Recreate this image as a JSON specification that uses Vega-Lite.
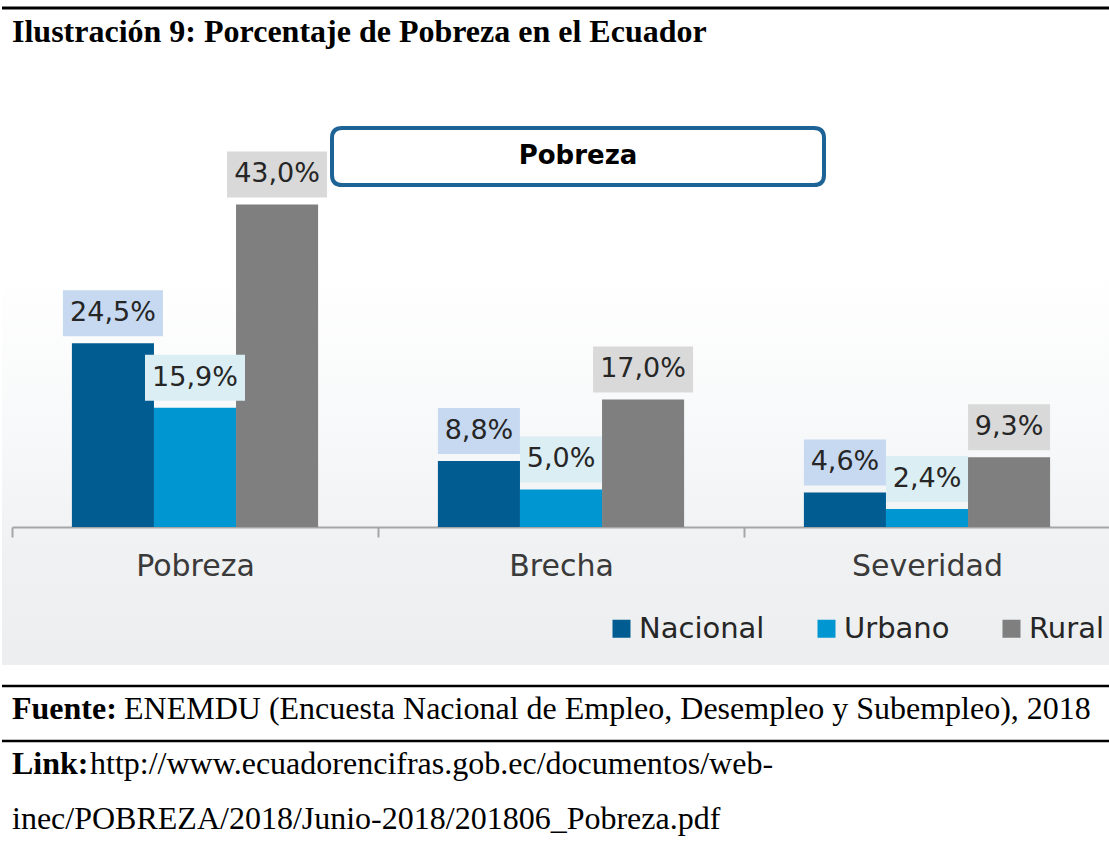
{
  "$schema": "https://vega.github.io/schema/vega-lite/v6.json",
  "padding": 0,
  "background": "white",
  "spacing": 16,
  "datasets": {
    "encabezado": [{"texto": "Ilustración 9: Porcentaje de Pobreza en el Ecuador"}],
    "titulo": [{"titulo": "Pobreza", "Indicador": "Brecha"}],
    "pobreza": [
      {"Indicador": "Pobreza", "Zona": "Nacional", "Valor": 24.5, "Etiqueta": "24,5%"},
      {"Indicador": "Pobreza", "Zona": "Urbano", "Valor": 15.9, "Etiqueta": "15,9%"},
      {"Indicador": "Pobreza", "Zona": "Rural", "Valor": 43.0, "Etiqueta": "43,0%"},
      {"Indicador": "Brecha", "Zona": "Nacional", "Valor": 8.8, "Etiqueta": "8,8%"},
      {"Indicador": "Brecha", "Zona": "Urbano", "Valor": 5.0, "Etiqueta": "5,0%"},
      {"Indicador": "Brecha", "Zona": "Rural", "Valor": 17.0, "Etiqueta": "17,0%"},
      {"Indicador": "Severidad", "Zona": "Nacional", "Valor": 4.6, "Etiqueta": "4,6%"},
      {"Indicador": "Severidad", "Zona": "Urbano", "Valor": 2.4, "Etiqueta": "2,4%"},
      {"Indicador": "Severidad", "Zona": "Rural", "Valor": 9.3, "Etiqueta": "9,3%"}
    ],
    "documento": [
      {"fila": "1", "prefijo": "Fuente:", "resto": "ENEMDU (Encuesta Nacional de Empleo, Desempleo y Subempleo), 2018"},
      {"fila": "2", "prefijo": "Link:", "resto": "http://www.ecuadorencifras.gob.ec/documentos/web-"},
      {"fila": "3", "prefijo": "", "resto": "inec/POBREZA/2018/Junio-2018/201806_Pobreza.pdf"}
    ]
  },
  "vconcat": [
    {
      "width": 1109,
      "height": 84,
      "data": {"name": "encabezado"},
      "layer": [
        {
          "mark": {"type": "rule", "color": "#000000", "strokeWidth": 3},
          "encoding": {"y": {"datum": 0.905, "type": "quantitative", "scale": {"domain": [0, 1]}, "axis": null}}
        },
        {
          "mark": {"type": "text", "align": "left", "baseline": "middle", "font": "Liberation Serif", "fontWeight": "bold", "fontSize": 32, "color": "#000000", "dx": 10},
          "encoding": {
            "x": {"datum": 0, "type": "quantitative", "scale": {"domain": [0, 1]}, "axis": null},
            "y": {"datum": 0.62, "type": "quantitative", "scale": {"domain": [0, 1]}, "axis": null},
            "text": {"field": "texto"}
          }
        }
      ]
    },
    {
      "width": 1109,
      "height": 565,
      "view": {
        "stroke": null,
        "fill": {
          "gradient": "linear", "x1": 0, "y1": 0, "x2": 0, "y2": 1,
          "stops": [
            {"offset": 0, "color": "#ffffff"},
            {"offset": 0.3, "color": "#ffffff"},
            {"offset": 0.6, "color": "#f7f8f9"},
            {"offset": 0.8, "color": "#eff1f2"},
            {"offset": 1, "color": "#eceeef"}
          ]
        }
      },
      "layer": [
        {
          "data": {"name": "pobreza"},
          "encoding": {
            "x": {
              "field": "Indicador", "type": "nominal",
              "scale": {"domain": ["Pobreza", "Brecha", "Severidad"], "range": [10, 1108], "paddingInner": 0, "paddingOuter": 0},
              "axis": {
                "title": null, "offset": -138, "tickBand": "extent",
                "domainColor": "#a6a6a6", "domainWidth": 2,
                "tickColor": "#a6a6a6", "tickWidth": 2, "tickSize": 10,
                "labelFont": "DejaVu Sans", "labelFontSize": 30, "labelColor": "#3a3a3a", "labelPadding": 14, "labelAngle": 0
              }
            },
            "y": {"field": "Valor", "type": "quantitative", "scale": {"domain": [-18.4, 56.93], "nice": false, "zero": false}, "axis": null},
            "xOffset": {"field": "Zona", "scale": {"domain": ["Nacional", "Urbano", "Rural"], "paddingInner": 0, "paddingOuter": 0.73}}
          },
          "layer": [
            {
              "mark": {"type": "bar"},
              "encoding": {
                "color": {
                  "field": "Zona",
                  "scale": {"domain": ["Nacional", "Urbano", "Rural"], "range": ["#015c92", "#0096d1", "#7f7f7f"]},
                  "legend": {
                    "orient": "none", "legendX": 605, "legendY": 614, "direction": "horizontal", "title": null,
                    "symbolType": "square", "symbolSize": 324, "symbolStrokeWidth": 0,
                    "labelFont": "DejaVu Sans", "labelFontSize": 29, "labelColor": "#262626",
                    "columnPadding": 47, "labelOffset": 3, "padding": 0
                  }
                }
              }
            },
            {
              "transform": [{"filter": "datum.Valor >= 10"}],
              "mark": {"type": "point", "filled": true, "opacity": 1, "shape": "M-1,-0.46H1V0.46H-1Z", "size": 10000, "yOffset": -30},
              "encoding": {
                "fill": {"field": "Zona", "scale": {"domain": ["Nacional", "Urbano", "Rural"], "range": ["#c6d9f1", "#dbeef4", "#d9d9d9"]}, "legend": null}
              }
            },
            {
              "transform": [{"filter": "datum.Valor < 10"}],
              "mark": {"type": "point", "filled": true, "opacity": 1, "shape": "M-1,-0.561H1V0.561H-1Z", "size": 6724, "yOffset": -30},
              "encoding": {
                "fill": {"field": "Zona", "scale": {"domain": ["Nacional", "Urbano", "Rural"], "range": ["#c6d9f1", "#dbeef4", "#d9d9d9"]}, "legend": null}
              }
            },
            {
              "mark": {"type": "text", "font": "DejaVu Sans", "fontSize": 27, "color": "#262626", "baseline": "middle", "yOffset": -30},
              "encoding": {"text": {"field": "Etiqueta"}}
            }
          ]
        },
        {
          "data": {"name": "titulo"},
          "encoding": {
            "x": {"field": "Indicador", "type": "nominal"},
            "y": {"datum": 49.4, "type": "quantitative"}
          },
          "layer": [
            {
              "mark": {
                "type": "point", "filled": true, "opacity": 1, "fill": "#ffffff", "stroke": "#1d6396", "strokeWidth": 4,
                "shape": "M-0.959,-0.116L0.959,-0.116Q1,-0.116 1,-0.075L1,0.075Q1,0.116 0.959,0.116L-0.959,0.116Q-1,0.116 -1,0.075L-1,-0.075Q-1,-0.116 -0.959,-0.116Z",
                "size": 242064, "xOffset": 17
              }
            },
            {
              "mark": {"type": "text", "font": "DejaVu Sans", "fontWeight": "bold", "fontSize": 26, "color": "#000000", "baseline": "middle", "xOffset": 17},
              "encoding": {"text": {"field": "titulo"}}
            }
          ]
        }
      ]
    },
    {
      "width": 1109,
      "height": 165,
      "data": {"name": "documento"},
      "encoding": {
        "y": {"field": "fila", "type": "ordinal", "scale": {"type": "band", "domain": ["1", "2", "3"], "paddingInner": 0, "paddingOuter": 0}, "axis": null}
      },
      "layer": [
        {
          "transform": [{"filter": "datum.fila != '3'"}],
          "mark": {"type": "rule", "color": "#000000", "strokeWidth": 2.5, "yOffset": 5},
          "encoding": {"y": {"field": "fila", "type": "ordinal", "bandPosition": 0, "scale": {"type": "band", "domain": ["1", "2", "3"], "paddingInner": 0, "paddingOuter": 0}, "axis": null}}
        },
        {
          "mark": {"type": "text", "align": "left", "baseline": "middle", "font": "Liberation Serif", "fontWeight": "bold", "fontSize": 32, "color": "#000000", "dx": 10},
          "encoding": {
            "x": {"datum": 0, "type": "quantitative", "scale": {"domain": [0, 1]}, "axis": null},
            "text": {"field": "prefijo"}
          }
        },
        {
          "transform": [{"filter": "datum.fila == '1'"}],
          "mark": {"type": "text", "align": "left", "baseline": "middle", "font": "Liberation Serif", "fontSize": 32, "color": "#000000", "dx": 122},
          "encoding": {
            "x": {"datum": 0, "type": "quantitative", "scale": {"domain": [0, 1]}, "axis": null},
            "text": {"field": "resto"}
          }
        },
        {
          "transform": [{"filter": "datum.fila == '2'"}],
          "mark": {"type": "text", "align": "left", "baseline": "middle", "font": "Liberation Serif", "fontSize": 32, "color": "#000000", "dx": 88},
          "encoding": {
            "x": {"datum": 0, "type": "quantitative", "scale": {"domain": [0, 1]}, "axis": null},
            "text": {"field": "resto"}
          }
        },
        {
          "transform": [{"filter": "datum.fila == '3'"}],
          "mark": {"type": "text", "align": "left", "baseline": "middle", "font": "Liberation Serif", "fontSize": 32, "color": "#000000", "dx": 10},
          "encoding": {
            "x": {"datum": 0, "type": "quantitative", "scale": {"domain": [0, 1]}, "axis": null},
            "text": {"field": "resto"}
          }
        }
      ]
    }
  ],
  "resolve": {"scale": {"x": "independent", "y": "independent"}},
  "config": {"view": {"stroke": null}}
}
